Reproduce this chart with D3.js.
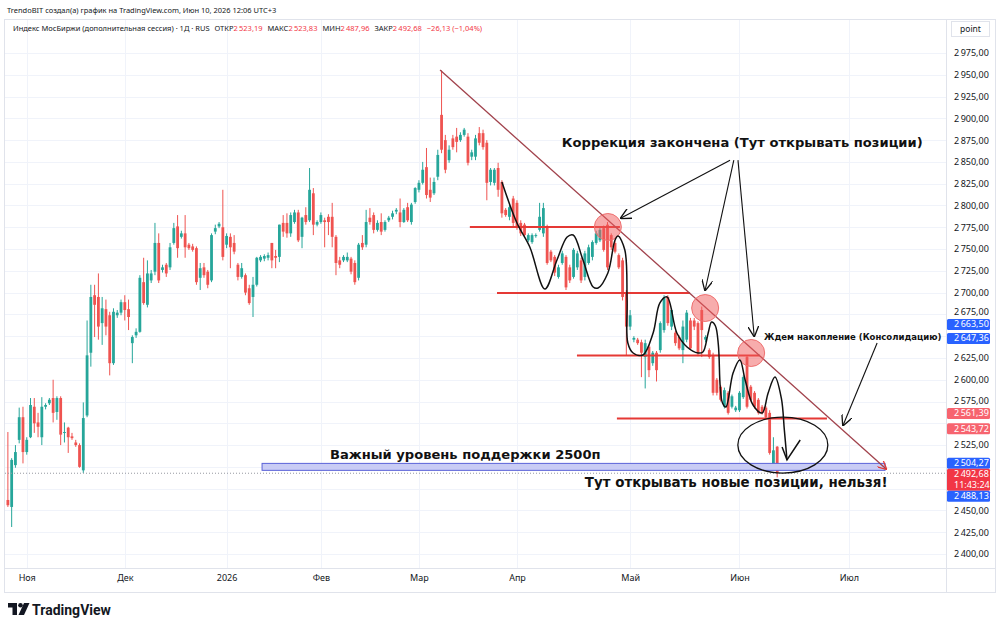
<!DOCTYPE html>
<html>
<head>
<meta charset="utf-8">
<script src="https://cdn.jsdelivr.net/npm/d3@7"></script>
<style>
  body { margin: 0; background: #fff; }
  svg { display: block; font-family: "Noto Sans", sans-serif; }
</style>
</head>
<body>
<div id="chart"></div>
<script>
// Daily candles, MOEX index (additional session): [open, high, low, close]
var ohlc = [
  [2462,2540,2454,2456],[2454,2510,2431,2508],[2502,2525,2499,2517],[2531,2568,2527,2557],[2557,2569,2504,2517],
  [2517,2534,2514,2531],[2534,2579,2533,2571],[2569,2579,2539,2550],[2551,2562,2534,2546],[2534,2580,2525,2569],
  [2569,2573,2566,2571],[2573,2579,2571,2577],[2579,2600,2551,2562],[2563,2581,2554,2579],[2579,2581,2525,2537],
  [2539,2551,2528,2540],[2545,2546,2516,2534],[2535,2539,2531,2533],[2528,2531,2523,2525],[2525,2527,2499,2500],
  [2496,2574,2493,2556],[2559,2668,2557,2628],[2631,2709,2615,2695],[2697,2709,2649,2686],[2695,2722,2646,2661],
  [2665,2695,2640,2682],[2681,2692,2651,2661],[2674,2678,2605,2619],[2619,2682,2617,2678],[2674,2680,2671,2677],
  [2677,2692,2674,2689],[2689,2697,2668,2680],[2681,2692,2657,2672],[2642,2651,2619,2649],[2651,2659,2648,2655],
  [2655,2720,2654,2717],[2712,2740,2686,2688],[2686,2737,2683,2722],[2714,2726,2711,2722],[2724,2780,2720,2757],
  [2757,2768,2711,2714],[2726,2732,2723,2729],[2732,2734,2718,2722],[2729,2757,2726,2752],[2757,2780,2755,2774],
  [2776,2789,2740,2751],[2764,2771,2762,2768],[2768,2789,2740,2752],[2755,2757,2749,2751],[2753,2756,2747,2749],
  [2751,2753,2709,2712],[2717,2734,2703,2728],[2729,2734,2717,2720],[2724,2726,2705,2709],[2714,2768,2712,2766],
  [2770,2778,2767,2774],[2776,2781,2774,2779],[2775,2818,2737,2741],[2755,2768,2751,2765],[2764,2768,2728,2752],
  [2757,2766,2744,2747],[2732,2734,2714,2718],[2718,2734,2716,2728],[2720,2722,2697,2700],[2705,2709,2686,2688],
  [2695,2718,2672,2709],[2709,2741,2707,2740],[2737,2743,2735,2741],[2739,2744,2736,2742],[2740,2746,2737,2743],
  [2757,2757,2728,2737],[2742,2749,2728,2740],[2741,2778,2735,2778],[2780,2789,2764,2770],[2780,2791,2763,2768],
  [2768,2792,2764,2789],[2781,2795,2779,2792],[2792,2795,2758,2760],[2764,2787,2751,2786],[2789,2798,2778,2781],
  [2783,2843,2781,2818],[2814,2820,2766,2778],[2778,2783,2776,2781],[2781,2792,2779,2789],[2783,2786,2752,2781],
  [2787,2790,2766,2781],[2787,2803,2752,2764],[2764,2766,2720,2734],[2737,2741,2728,2732],[2737,2743,2735,2741],
  [2737,2746,2735,2741],[2739,2741,2721,2724],[2734,2737,2709,2712],[2717,2757,2714,2755],[2757,2766,2749,2752],
  [2755,2795,2752,2781],[2786,2797,2778,2781],[2789,2792,2768,2772],[2772,2783,2770,2780],[2781,2791,2766,2770],
  [2772,2783,2770,2781],[2783,2788,2781,2786],[2787,2794,2784,2791],[2793,2797,2790,2795],[2792,2808,2775,2781],
  [2781,2797,2780,2795],[2798,2803,2781,2783],[2781,2803,2778,2801],[2804,2821,2802,2820],[2818,2829,2815,2826],
  [2826,2850,2824,2841],[2844,2866,2808,2812],[2818,2832,2804,2809],[2814,2832,2812,2827],[2833,2864,2829,2858],
  [2904,2955,2860,2864],[2875,2881,2837,2841],[2852,2869,2849,2864],[2877,2881,2864,2867],[2879,2889,2861,2873],
  [2875,2884,2873,2881],[2881,2889,2879,2887],[2879,2883,2846,2849],[2856,2864,2852,2861],[2856,2881,2852,2877],
  [2883,2890,2869,2872],[2883,2887,2864,2867],[2872,2875,2806,2826],[2827,2843,2823,2841],[2826,2843,2823,2841],
  [2843,2849,2810,2818],[2827,2829,2786,2791],[2795,2797,2787,2789],[2787,2803,2783,2798],[2808,2811,2776,2780],
  [2803,2806,2772,2775],[2780,2783,2765,2768],[2778,2780,2764,2766],[2760,2768,2758,2766],[2758,2768,2756,2766],
  [2765,2768,2763,2766],[2772,2803,2770,2787],[2768,2803,2764,2797],[2775,2778,2732,2734],[2747,2749,2735,2737],
  [2741,2743,2719,2723],[2718,2732,2716,2729],[2734,2748,2732,2745],[2741,2743,2703,2706],[2729,2732,2711,2714],
  [2718,2751,2716,2749],[2729,2748,2726,2745],[2737,2740,2711,2714],[2718,2748,2714,2745],[2734,2755,2732,2752],
  [2741,2760,2737,2758],[2757,2771,2755,2768],[2760,2774,2758,2772],[2774,2777,2747,2749],[2778,2781,2726,2729],
  [2766,2768,2749,2752],[2757,2760,2745,2747],[2743,2745,2727,2729],[2737,2740,2691,2695],[2700,2703,2628,2661],
  [2661,2680,2657,2674],[2646,2650,2643,2648],[2646,2648,2640,2642],[2643,2646,2603,2631],[2626,2646,2590,2642],
  [2638,2640,2603,2611],[2619,2633,2616,2631],[2631,2633,2598,2611],[2634,2667,2631,2665],[2657,2697,2654,2694],
  [2695,2697,2662,2665],[2661,2682,2657,2680],[2654,2656,2639,2642],[2649,2651,2634,2636],[2634,2668,2619,2661],
  [2646,2680,2643,2677],[2668,2671,2634,2636],[2668,2671,2657,2661],[2665,2667,2627,2631],[2680,2684,2626,2657],
  [2646,2651,2643,2649],[2634,2636,2624,2626],[2628,2631,2582,2585],[2600,2602,2582,2585],[2592,2594,2575,2577],
  [2569,2591,2567,2588],[2585,2587,2560,2562],[2569,2583,2567,2581],[2565,2570,2563,2568],[2565,2587,2563,2585],
  [2580,2605,2578,2603],[2626,2628,2567,2569],[2592,2594,2575,2577],[2585,2587,2567,2569],[2577,2579,2560,2562],
  [2569,2571,2560,2562],[2568,2570,2555,2557],[2562,2565,2514,2516],[2500,2534,2498,2519],
  [2523.19,2523.83,2487.96,2492.68]
];

// Time axis: month label and index of its first candle
var months = [
  { label: "Ноя", i: 5 }, { label: "Дек", i: 31 }, { label: "2026", i: 58 },
  { label: "Фев", i: 83 }, { label: "Мар", i: 109 }, { label: "Апр", i: 135 },
  { label: "Май", i: 165 }, { label: "Июн", i: 194 }, { label: "Июл", i: 223 }
];

// Price axis
var priceMin = 2400, priceMax = 2975, priceStep = 25;

// Price labels on the scale
var scaleLabels = [
  { v: 2663.50, kind: "blue" }, { v: 2647.36, kind: "blue" },
  { v: 2561.39, kind: "pink" }, { v: 2543.72, kind: "pink" },
  { v: 2504.27, kind: "blue" }, { v: 2492.68, kind: "close", sub: "11:43:24" },
  { v: 2488.13, kind: "blue" }
];

// Drawings, in [candle index, price]
var trendLine = [[114.6, 2955.5], [232.9, 2497.6]];
var levels = [
  { p: 2775.3, from: 122.5, to: 162.3 },
  { p: 2699.6, from: 129.7, to: 180.9 },
  { p: 2627.8, from: 150.9, to: 199.4 },
  { p: 2555.5, from: 161.5, to: 217.2 }
];
var supportBand = { top: 2504, bottom: 2496, from: 67.4, to: 232.6 };
var touches = [[159.1, 2775.3], [184.9, 2682.3], [197.1, 2630.7]];
var wave = [
  [131.0,2827.0],[135.0,2779.9],[138.4,2752.3],[142.4,2704.1],[145.6,2737.4],[148.3,2763.8],[149.9,2766.1],
  [152.5,2737.4],[155.2,2706.4],[156.5,2705.3],[159.1,2722.5],[161.0,2760.4],[161.8,2764.9],[163.6,2748.9],
  [164.2,2691.5],[164.4,2642.2],[165.8,2630.7],[168.4,2628.4],[171.1,2653.6],[172.9,2688.1],[174.8,2695.0],
  [177.4,2653.6],[180.1,2637.6],[183.0,2630.7],[184.3,2631.8],[185.7,2653.6],[186.6,2666.3],[187.6,2662.0],
  [188.4,2640.0],[188.9,2591.7],[189.5,2573.3],[190.4,2568.7],[192.3,2607.7],[194.1,2622.7],[195.5,2599.7],
  [197.6,2571.0],[200.0,2561.8],[201.6,2584.8],[203.4,2603.1],[205.1,2578.8],[205.9,2542.3],[206.6,2507.9]
];
var tick = [[205.3, 2522.8], [206.6, 2507.9], [210.1, 2530.8]];
var ring = { i: 205.5, p: 2525 };
var arrows = [
  [[191.5, 2852.0], [162.6, 2785.6]],
  [[192.5, 2852.0], [184.9, 2703.0]],
  [[193.6, 2852.0], [197.9, 2650.2]],
  [[230.5, 2642.1], [221.5, 2548.0]]
];
var notes = [
  { t: "Коррекция закончена (Тут открывать позиции)", i: 146.9, p: 2867.1, w: 361 },
  { t: "Ждем накопление (Консолидацию)", i: 200.5, p: 2645.6, w: 178 },
  { t: "Важный уровень поддержки 2500п", i: 85.4, p: 2508.5, w: 271 },
  { t: "Тут открывать новые позиции, нельзя!", i: 153.0, p: 2477.0, w: 303 }
];

var W = 1000, H = 630;
var up = "#26a69a", down = "#ef5350", ink = "#131722";

var svg = d3.select("#chart").append("svg").attr("width", W).attr("height", H);

var x = d3.scaleLinear().domain([-0.5, 248.5]).range([6, 945]);
var y = d3.scaleLinear().domain([priceMin, priceMax]).range([554, 53]);

var ru = d3.formatLocale({ decimal: ",", thousands: "\u2009", grouping: [3], currency: ["", ""], minus: "\u2212" });
var fmt = ru.format(",.2f");

function fit(sel, width) {
  var fs = parseFloat(sel.attr("font-size"));
  var w = sel.node().getBBox().width;
  sel.attr("font-size", fs * width / w);
}

// Frame
svg.append("rect").attr("x", 4.5).attr("y", 19.5).attr("width", 991).attr("height", 573)
  .attr("fill", "none").attr("stroke", "#e0e3eb");
svg.append("line").attr("x1", 946.5).attr("x2", 946.5).attr("y1", 20).attr("y2", 592).attr("stroke", "#e0e3eb");
svg.append("line").attr("x1", 5).attr("x2", 995).attr("y1", 568.5).attr("y2", 568.5).attr("stroke", "#e0e3eb");

var defs = svg.append("defs");
defs.append("clipPath").attr("id", "plot").append("rect")
  .attr("x", 5).attr("y", 20).attr("width", 941).attr("height", 548);
defs.append("marker").attr("id", "ah").attr("viewBox", "0 0 10 10")
  .attr("refX", 9).attr("refY", 5).attr("markerWidth", 11).attr("markerHeight", 11)
  .attr("markerUnits", "userSpaceOnUse").attr("orient", "auto")
  .append("path").attr("d", "M0,0 L10,5 L0,10").attr("fill", "none").attr("stroke", "#111").attr("stroke-width", 1.2);
defs.append("marker").attr("id", "ahr").attr("viewBox", "0 0 10 10")
  .attr("refX", 9).attr("refY", 5).attr("markerWidth", 9).attr("markerHeight", 9)
  .attr("markerUnits", "userSpaceOnUse").attr("orient", "auto")
  .append("path").attr("d", "M0,0 L10,5 L0,10").attr("fill", "none").attr("stroke", "#e53935").attr("stroke-width", 1.4);

// Scale labels: stack them so they do not cover each other
var placed = scaleLabels.map(function(d) {
  return { d: d, h: d.sub ? 22 : 11, c: y(d.v) };
}).sort(function(a, b) { return a.c - b.c; });
var prevBottom = -1e9;
placed.forEach(function(p) {
  p.top = Math.max(p.c - 5.5, prevBottom);
  prevBottom = p.top + p.h;
});

// Grid
var priceTicks = d3.range(priceMin, priceMax + 1, priceStep);
var grid = svg.append("g");
grid.selectAll(".hg").data(priceTicks).enter().append("line")
  .attr("x1", 5).attr("x2", 946).attr("y1", function(d) { return Math.round(y(d)) + 0.5; })
  .attr("y2", function(d) { return Math.round(y(d)) + 0.5; }).attr("stroke", "#f0f3fa");
grid.selectAll(".vg").data(months).enter().append("line")
  .attr("x1", function(d) { return Math.round(x(d.i)) + 0.5; }).attr("x2", function(d) { return Math.round(x(d.i)) + 0.5; })
  .attr("y1", 20).attr("y2", 568).attr("stroke", "#f0f3fa");

// Price axis (ticks hidden where a scale label sits on them)
var freeTicks = priceTicks.filter(function(v) {
  var c = y(v);
  return !placed.some(function(p) { return c > p.top - 3 && c < p.top + p.h + 3; });
});
var yAxis = svg.append("g").attr("transform", "translate(954,0)")
  .call(d3.axisRight(y).tickValues(freeTicks).tickSize(0).tickPadding(0).tickFormat(fmt));
yAxis.select(".domain").remove();
yAxis.selectAll("text").attr("font-size", 9).attr("fill", ink).attr("font-family", "Noto Sans");
// nudge a tick label that still touches a label box
var half = 7;
yAxis.selectAll(".tick").each(function(v) {
  var c = y(v), shift = 0;
  placed.forEach(function(p) {
    if (c < p.top && c + half > p.top) shift = Math.min(shift, p.top - c - half);
    if (c > p.top + p.h && c - half < p.top + p.h) shift = Math.max(shift, p.top + p.h - c + half);
  });
  d3.select(this).select("text").attr("y", shift);
});

// Time axis
var xAxis = svg.append("g").attr("transform", "translate(0,575)")
  .call(d3.axisBottom(x).tickValues(months.map(function(m) { return m.i; }))
    .tickSize(0).tickPadding(0).tickFormat(function(d, k) { return months[k].label; }));
xAxis.select(".domain").remove();
xAxis.selectAll("text").attr("font-size", 9).attr("fill", ink).attr("font-family", "Noto Sans");

// Candles
var plot = svg.append("g").attr("clip-path", "url(#plot)");
var candle = plot.selectAll(".c").data(ohlc).enter().append("g");
candle.append("line")
  .attr("x1", function(d, i) { return x(i); }).attr("x2", function(d, i) { return x(i); })
  .attr("y1", function(d) { return y(d[1]); }).attr("y2", function(d) { return y(d[2]); })
  .attr("stroke", function(d) { return d[3] >= d[0] ? up : down; }).attr("stroke-width", 1);
candle.append("rect")
  .attr("x", function(d, i) { return x(i) - 1.4; }).attr("width", 2.8)
  .attr("y", function(d) { return y(Math.max(d[0], d[3])); })
  .attr("height", function(d) { return Math.max(1, Math.abs(y(d[0]) - y(d[3]))); })
  .attr("fill", function(d) { return d[3] >= d[0] ? up : down; });

// Last price line
var last = ohlc[ohlc.length - 1];
plot.append("line").attr("x1", 5).attr("x2", 946).attr("y1", y(last[3])).attr("y2", y(last[3]))
  .attr("stroke", "#9598a1").attr("stroke-dasharray", "1,2");

// Support band
plot.append("rect").attr("x", x(supportBand.from)).attr("width", x(supportBand.to) - x(supportBand.from))
  .attr("y", y(supportBand.top)).attr("height", y(supportBand.bottom) - y(supportBand.top))
  .attr("fill", "#c9ccf5").attr("stroke", "#5b63d8").attr("stroke-width", 1);

// Horizontal levels
plot.selectAll(".lv").data(levels).enter().append("line")
  .attr("x1", function(d) { return x(d.from); }).attr("x2", function(d) { return x(d.to); })
  .attr("y1", function(d) { return y(d.p); }).attr("y2", function(d) { return y(d.p); })
  .attr("stroke", "#e53935").attr("stroke-width", 2);

// Trend line
plot.append("line").attr("x1", x(trendLine[0][0])).attr("y1", y(trendLine[0][1]))
  .attr("x2", x(trendLine[1][0])).attr("y2", y(trendLine[1][1]))
  .attr("stroke", "#a1424c").attr("stroke-width", 1.3).attr("marker-end", "url(#ahr)");

// Touch circles
plot.selectAll(".tc").data(touches).enter().append("circle")
  .attr("cx", function(d) { return x(d[0]); }).attr("cy", function(d) { return y(d[1]); }).attr("r", 13.5)
  .attr("fill", "rgba(240,90,90,0.5)").attr("stroke", "#ef7070").attr("stroke-width", 1);

// Hand-drawn wave, tick and ring
var line = d3.line().x(function(d) { return x(d[0]); }).y(function(d) { return y(d[1]); });
plot.append("path").attr("d", line.curve(d3.curveCatmullRom)(wave))
  .attr("fill", "none").attr("stroke", "#111").attr("stroke-width", 1.5);
plot.append("path").attr("d", line.curve(d3.curveLinear)(tick))
  .attr("fill", "none").attr("stroke", "#111").attr("stroke-width", 1.5);
plot.append("ellipse").attr("cx", x(ring.i)).attr("cy", y(ring.p)).attr("rx", 45).attr("ry", 28)
  .attr("fill", "none").attr("stroke", "#111").attr("stroke-width", 1.3);

// Arrows
plot.selectAll(".ar").data(arrows).enter().append("line")
  .attr("x1", function(d) { return x(d[0][0]); }).attr("y1", function(d) { return y(d[0][1]); })
  .attr("x2", function(d) { return x(d[1][0]); }).attr("y2", function(d) { return y(d[1][1]); })
  .attr("stroke", "#111").attr("stroke-width", 1.1).attr("marker-end", "url(#ah)");

// Notes
notes.forEach(function(n) {
  var t = svg.append("text").attr("x", x(n.i)).attr("y", y(n.p))
    .attr("font-family", "DejaVu Sans").attr("font-weight", "bold").attr("font-size", 16)
    .attr("fill", "#111").text(n.t);
  fit(t, n.w);
});

// Scale label boxes
var colors = { blue: "#2962ff", pink: "#f7646f", close: "#f23645" };
var lab = svg.selectAll(".sl").data(placed).enter().append("g");
lab.append("rect").attr("x", 947).attr("width", 43).attr("y", function(p) { return p.top; })
  .attr("height", function(p) { return p.h; }).attr("rx", 1.5)
  .attr("fill", function(p) { return colors[p.d.kind]; });
lab.append("text").attr("x", 954).attr("y", function(p) { return p.top + 8.5; })
  .attr("font-size", 9).attr("fill", "#fff").text(function(p) { return fmt(p.d.v); });
lab.filter(function(p) { return p.d.sub; }).append("text").attr("x", 954).attr("y", function(p) { return p.top + 19.5; })
  .attr("font-size", 9).attr("fill", "#fff").text(function(p) { return p.d.sub; });

// "point" box
svg.append("rect").attr("x", 951.5).attr("y", 21.5).attr("width", 38).attr("height", 15)
  .attr("fill", "#fff").attr("stroke", "#e0e3eb");
svg.append("text").attr("x", 970.5).attr("y", 32).attr("text-anchor", "middle")
  .attr("font-size", 8.5).attr("fill", ink).text("point");

// Header
var hdr = svg.append("text").attr("x", 7).attr("y", 13).attr("font-size", 9).attr("fill", ink)
  .text("TrendoBIT создал(а) график на TradingView.com, Июн 10, 2026 12:06 UTC+3");
fit(hdr, 270);

var red = "#f23645";
var legendParts = [
  { t: "Индекс МосБиржи (дополнительная сессия) · 1Д · RUS", c: ink, dx: 0 },
  { t: "ОТКР", c: ink, dx: 5 }, { t: "2\u2009523,19", c: red, dx: 0 },
  { t: "МАКС", c: ink, dx: 5 }, { t: "2\u2009523,83", c: red, dx: 0 },
  { t: "МИН", c: ink, dx: 5 }, { t: "2\u2009487,96", c: red, dx: 0 },
  { t: "ЗАКР", c: ink, dx: 5 }, { t: "2\u2009492,68", c: red, dx: 0 },
  { t: "\u221226,13 (\u22121,04%)", c: red, dx: 5 }
];
var leg = svg.append("text").attr("x", 13).attr("y", 31).attr("font-size", 8.6);
leg.selectAll("tspan").data(legendParts).enter().append("tspan")
  .attr("dx", function(d) { return d.dx; }).attr("fill", function(d) { return d.c; }).text(function(d) { return d.t; });
fit(leg, 467);

// TradingView mark
var logo = svg.append("g").attr("fill", "#131722");
logo.append("path").attr("d", "M8,603 h9 v12 h-4.5 v-7.5 h-4.5 z");
logo.append("circle").attr("cx", 20.5).attr("cy", 605.3).attr("r", 2.3);
logo.append("path").attr("d", "M24,603 h5.5 l-5.5,12 h-5.5 z");
var tv = svg.append("text").attr("x", 32).attr("y", 615).attr("font-family", "Roboto")
  .attr("font-weight", "bold").attr("font-size", 15).attr("fill", "#131722").text("TradingView");
fit(tv, 79);
</script>
</body>
</html>
